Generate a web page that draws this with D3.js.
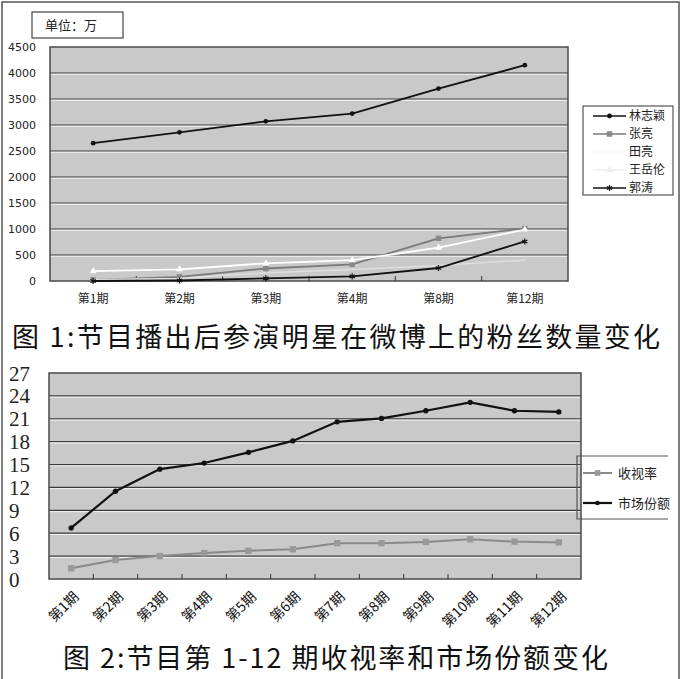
<!DOCTYPE html>
<html>
<head>
<meta charset="utf-8">
<script src="https://cdn.jsdelivr.net/npm/d3@7"></script>
<style>
  html, body { margin: 0; padding: 0; background: #fff; }
  svg { display: block; }
</style>
</head>
<body>
<svg id="fig" width="682" height="679"></svg>
<script>
// ------------------------------------------------------------
// dati figura 1 – fan su weibo (unità: 万)
// ------------------------------------------------------------
const periods1 = ['第1期', '第2期', '第3期', '第4期', '第8期', '第12期'];
const linZhiying = [2650, 2860, 3070, 3220, 3700, 4150];
const zhangLiang = [20, 80, 240, 320, 820, 1010];
const tianLiang = [30, 50, 160, 220, 300, 400];
const wangYuelun = [190, 225, 340, 400, 640, 990];
const guoTao = [0, 10, 50, 90, 250, 760];
const ticks1 = [0, 500, 1000, 1500, 2000, 2500, 3000, 3500, 4000, 4500];

// ------------------------------------------------------------
// dati figura 2 – ascolti e share
// ------------------------------------------------------------
const periods2 = ['第1期', '第2期', '第3期', '第4期', '第5期', '第6期',
                  '第7期', '第8期', '第9期', '第10期', '第11期', '第12期'];
const ratings = [1.4, 2.5, 3.0, 3.4, 3.7, 3.9, 4.7, 4.7, 4.85, 5.2, 4.9, 4.8];
const share = [6.7, 11.5, 14.4, 15.2, 16.6, 18.1, 20.6, 21.05, 22.05, 23.15, 22.05, 21.9];
const ticks2 = [0, 3, 6, 9, 12, 15, 18, 21, 24, 27];

const svg = d3.select('#fig');
const CJK = '"Noto Sans CJK SC", "Noto Sans", sans-serif';

// cornice esterna
svg.append('rect')
    .attr('x', 2).attr('y', 2)
    .attr('width', 677).attr('height', 720)
    .attr('fill', 'none').attr('stroke', '#555').attr('stroke-width', 1.5);

const asterisk = d3.symbolAsterisk || d3.symbolTimes;

// ------------------------------------------------------------
// funzione comune: area grafico, griglia, assi, linee
// ------------------------------------------------------------
function drawPlot(cfg) {
    const g = svg.append('g');
    const x = d3.scaleBand().domain(cfg.categories).range([cfg.left, cfg.right]);
    const y = d3.scaleLinear().domain([0, d3.max(cfg.ticks)]).range([cfg.bottom, cfg.top]);
    const cx = (c) => x(c) + x.bandwidth() / 2;

    // sfondo grigio
    g.append('rect')
        .attr('x', cfg.left).attr('y', cfg.top)
        .attr('width', cfg.right - cfg.left).attr('height', cfg.bottom - cfg.top)
        .attr('fill', '#c9c9c9');

    // griglia scura con riflesso bianco
    const inner = cfg.ticks.slice(1, -1);
    g.selectAll('.grid-dark').data(inner).enter().append('line')
        .attr('x1', cfg.left).attr('x2', cfg.right)
        .attr('y1', (d) => y(d)).attr('y2', (d) => y(d))
        .attr('stroke', '#3c3c3c').attr('stroke-width', 1.2);
    g.selectAll('.grid-light').data(inner).enter().append('line')
        .attr('x1', cfg.left).attr('x2', cfg.right)
        .attr('y1', (d) => y(d) + 1.3).attr('y2', (d) => y(d) + 1.3)
        .attr('stroke', '#f4f4f4').attr('stroke-width', 1);

    // bordo area
    g.append('rect')
        .attr('x', cfg.left).attr('y', cfg.top)
        .attr('width', cfg.right - cfg.left).attr('height', cfg.bottom - cfg.top)
        .attr('fill', 'none').attr('stroke', '#4a4a4a').attr('stroke-width', 1.5);

    // tacche asse x ai confini delle categorie
    g.selectAll('.xtick').data(cfg.categories.slice(1)).enter().append('line')
        .attr('x1', (d) => x(d)).attr('x2', (d) => x(d))
        .attr('y1', cfg.bottom).attr('y2', cfg.bottom - 5)
        .attr('stroke', '#333').attr('stroke-width', 1);

    // etichette asse y
    g.selectAll('.ylab').data(cfg.ticks).enter().append('text')
        .attr('x', cfg.yLabelX)
        .attr('y', (d) => y(d))
        .attr('dy', '0.36em')
        .attr('text-anchor', cfg.yAnchor)
        .attr('font-family', cfg.yFont)
        .attr('font-size', cfg.yFontSize)
        .attr('fill', '#222')
        .text((d) => d);

    // linee serie
    cfg.series.forEach((s) => {
        const line = d3.line()
            .x((d, i) => cx(cfg.categories[i]))
            .y((d) => y(d));
        g.append('path')
            .datum(s.values)
            .attr('d', line)
            .attr('fill', 'none')
            .attr('stroke', s.color)
            .attr('stroke-width', s.width);
        if (s.symbol) {
            g.selectAll(null).data(s.values).enter().append('path')
                .attr('transform', (d, i) => `translate(${cx(cfg.categories[i])},${y(d)})`)
                .attr('d', d3.symbol().type(s.symbol).size(s.size))
                .attr('fill', s.stroke ? 'none' : s.markColor)
                .attr('stroke', s.stroke ? s.markColor : 'none')
                .attr('stroke-width', 1.2);
        }
    });

    return { g, x, y, cx };
}

// ------------------------------------------------------------
// FIGURA 1
// ------------------------------------------------------------
const series1 = [
    { name: '林志颖', values: linZhiying, color: '#111', width: 1.8, symbol: d3.symbolCircle, size: 18, markColor: '#111' },
    { name: '张亮', values: zhangLiang, color: '#7a7a7a', width: 1.8, symbol: d3.symbolSquare, size: 30, markColor: '#888' },
    { name: '田亮', values: tianLiang, color: '#dedede', width: 1.5, symbol: null },
    { name: '王岳伦', values: wangYuelun, color: '#ffffff', width: 1.8, symbol: d3.symbolTriangle, size: 22, markColor: '#fff' },
    { name: '郭涛', values: guoTao, color: '#111', width: 1.8, symbol: asterisk, size: 26, markColor: '#111', stroke: true }
];

const p1 = drawPlot({
    categories: periods1, ticks: ticks1, series: series1,
    left: 50, right: 568, top: 47, bottom: 281,
    yLabelX: 36, yAnchor: 'end', yFont: '"DejaVu Sans", sans-serif', yFontSize: 11
});

// etichette x
p1.g.selectAll('.xlab').data(periods1).enter().append('text')
    .attr('x', (d) => p1.cx(d))
    .attr('y', 303)
    .attr('text-anchor', 'middle')
    .attr('font-family', CJK)
    .attr('font-size', 12)
    .attr('fill', '#222')
    .text((d) => d);

// box unità
svg.append('rect')
    .attr('x', 32).attr('y', 12).attr('width', 91).attr('height', 26)
    .attr('fill', '#fff').attr('stroke', '#444').attr('stroke-width', 1.2);
svg.append('text')
    .attr('x', 45).attr('y', 30)
    .attr('font-family', CJK).attr('font-size', 13).attr('fill', '#222')
    .text('单位：万');

// legenda 1
const leg1 = svg.append('g');
leg1.append('rect')
    .attr('x', 583).attr('y', 106).attr('width', 90).attr('height', 89)
    .attr('fill', '#fff').attr('stroke', '#555').attr('stroke-width', 1.2);
const leg1Y = [116, 134, 152, 170, 188];
series1.forEach((s, i) => {
    const yy = leg1Y[i];
    leg1.append('line')
        .attr('x1', 593).attr('x2', 626).attr('y1', yy).attr('y2', yy)
        .attr('stroke', s.color === '#ffffff' ? '#eeeeee' : (s.color === '#dedede' ? '#f4f4f4' : s.color))
        .attr('stroke-width', 1.6);
    if (s.symbol) {
        leg1.append('path')
            .attr('transform', `translate(609.5,${yy})`)
            .attr('d', d3.symbol().type(s.symbol).size(s.size))
            .attr('fill', s.stroke ? 'none' : (s.markColor === '#fff' ? '#eee' : s.markColor))
            .attr('stroke', s.stroke ? s.markColor : 'none')
            .attr('stroke-width', 1.2);
    }
    leg1.append('text')
        .attr('x', 629).attr('y', yy).attr('dy', '0.35em')
        .attr('font-family', CJK).attr('font-size', 12).attr('fill', '#222')
        .text(s.name);
});

// titolo 1
svg.append('text')
    .attr('x', 12).attr('y', 347)
    .attr('textLength', 648).attr('lengthAdjust', 'spacing')
    .attr('font-family', CJK).attr('font-size', 27).attr('fill', '#111')
    .text('图 1:节目播出后参演明星在微博上的粉丝数量变化');

// ------------------------------------------------------------
// FIGURA 2
// ------------------------------------------------------------
const series2 = [
    { name: '收视率', values: ratings, color: '#8a8a8a', width: 2, symbol: d3.symbolSquare, size: 40, markColor: '#999' },
    { name: '市场份额', values: share, color: '#111', width: 2.2, symbol: d3.symbolCircle, size: 22, markColor: '#111' }
];

const p2 = drawPlot({
    categories: periods2, ticks: ticks2, series: series2,
    left: 49, right: 581, top: 373, bottom: 579,
    yLabelX: 9, yAnchor: 'start', yFont: '"Liberation Serif", "DejaVu Serif", serif', yFontSize: 21
});

// etichette x ruotate
p2.g.selectAll('.xlab').data(periods2).enter().append('text')
    .attr('transform', (d) => `translate(${p2.cx(d) + 5},${594}) rotate(-45)`)
    .attr('text-anchor', 'end')
    .attr('dy', '0.36em')
    .attr('font-family', CJK)
    .attr('font-size', 14)
    .attr('fill', '#111')
    .text((d) => d);

// legenda 2 (aperta a destra)
const leg2 = svg.append('g');
leg2.append('path')
    .attr('d', 'M668,456 H577 V519 H668')
    .attr('fill', 'none').attr('stroke', '#555').attr('stroke-width', 1.2);
const leg2Y = [473, 503];
series2.forEach((s, i) => {
    const yy = leg2Y[i];
    leg2.append('line')
        .attr('x1', 583).attr('x2', 612).attr('y1', yy).attr('y2', yy)
        .attr('stroke', s.color).attr('stroke-width', s.width);
    leg2.append('path')
        .attr('transform', `translate(597.5,${yy})`)
        .attr('d', d3.symbol().type(s.symbol).size(s.size * 0.8))
        .attr('fill', s.markColor);
    leg2.append('text')
        .attr('x', 618).attr('y', yy).attr('dy', '0.36em')
        .attr('font-family', CJK).attr('font-size', 13).attr('fill', '#222')
        .text(s.name);
});

// titolo 2
svg.append('text')
    .attr('x', 63).attr('y', 668)
    .attr('textLength', 545).attr('lengthAdjust', 'spacing')
    .attr('font-family', CJK).attr('font-size', 27).attr('fill', '#111')
    .text('图 2:节目第 1-12 期收视率和市场份额变化');
</script>
</body>
</html>
